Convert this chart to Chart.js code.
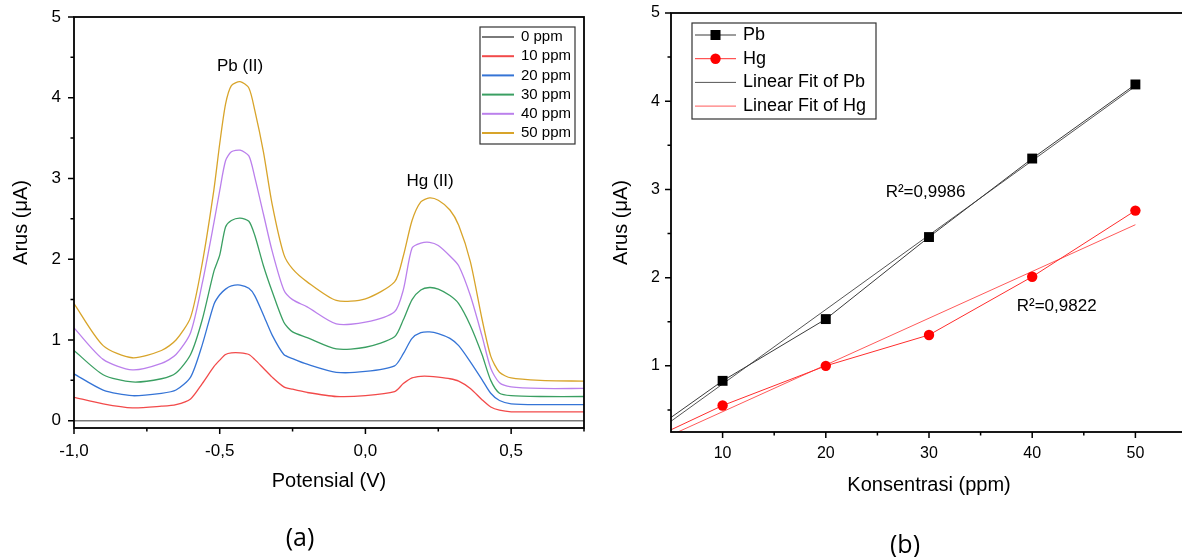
<!DOCTYPE html>
<html lang="id">
<head>
<meta charset="UTF-8" />
<title>Voltammogram Pb(II) dan Hg(II)</title>
<script src="https://cdn.jsdelivr.net/npm/chart.js"></script>
<style>
  body { margin: 0; width: 1182px; height: 557px; overflow: hidden; background: #fff; position: relative; }
  canvas { position: absolute; top: 0; }
  .tag { position: absolute; width: 100px; text-align: center; font-family: "Open Sans", sans-serif; font-size: 25px; line-height: 30px; color: #000; }
</style>
</head>
<body>
<canvas id="chartA" width="600" height="557" style="left:0"></canvas>
<canvas id="chartB" width="600" height="557" style="left:600px"></canvas>
<div class="tag" style="left:250px;top:521px">(a)</div>
<div class="tag" style="left:855px;top:528px">(b)</div>

<script>
// panel (a) - arus vs potensial, one curve per concentration
const potentials = [-1.0, -0.9, -0.8, -0.7, -0.65, -0.6, -0.56, -0.52, -0.5, -0.48, -0.46, -0.43, -0.4, -0.38, -0.35, -0.32, -0.28, -0.25, -0.2, -0.1,
                    0.0, 0.1, 0.13, 0.16, 0.19, 0.22, 0.25, 0.29, 0.32, 0.36, 0.4, 0.43, 0.46, 0.5, 0.6, 0.75];
const arus0   = [0, 0, 0, 0, 0, 0, 0, 0, 0, 0, 0, 0, 0, 0, 0, 0, 0, 0, 0, 0, 0, 0, 0, 0, 0, 0, 0, 0, 0, 0, 0, 0, 0, 0, 0, 0];
const arus10  = [0.29, 0.21, 0.16, 0.18, 0.20, 0.27, 0.46, 0.67, 0.75, 0.82, 0.84, 0.84, 0.82, 0.76, 0.65, 0.54, 0.42, 0.39, 0.35, 0.30,
                 0.31, 0.36, 0.46, 0.53, 0.55, 0.55, 0.54, 0.52, 0.49, 0.40, 0.26, 0.17, 0.13, 0.11, 0.11, 0.11];
const arus20  = [0.58, 0.38, 0.31, 0.34, 0.38, 0.54, 0.94, 1.44, 1.56, 1.63, 1.67, 1.68, 1.64, 1.55, 1.31, 1.06, 0.82, 0.77, 0.70, 0.60,
                 0.61, 0.68, 0.83, 1.02, 1.09, 1.10, 1.08, 1.02, 0.93, 0.73, 0.51, 0.34, 0.25, 0.21, 0.20, 0.20];
const arus30  = [0.87, 0.57, 0.48, 0.52, 0.59, 0.82, 1.25, 1.85, 2.05, 2.40, 2.48, 2.51, 2.47, 2.30, 1.92, 1.60, 1.22, 1.10, 1.03, 0.89,
                 0.91, 1.04, 1.25, 1.50, 1.62, 1.65, 1.63, 1.55, 1.45, 1.18, 0.82, 0.50, 0.34, 0.31, 0.30, 0.30];
const arus40  = [1.15, 0.76, 0.63, 0.71, 0.82, 1.09, 1.70, 2.45, 2.85, 3.22, 3.33, 3.35, 3.28, 3.02, 2.56, 2.10, 1.62, 1.50, 1.41, 1.20,
                 1.22, 1.35, 1.62, 2.14, 2.20, 2.21, 2.17, 2.04, 1.92, 1.55, 1.05, 0.65, 0.47, 0.42, 0.40, 0.40];
const arus50  = [1.45, 0.93, 0.78, 0.87, 1.00, 1.28, 1.95, 2.86, 3.43, 3.92, 4.15, 4.20, 4.12, 3.85, 3.33, 2.68, 2.06, 1.88, 1.72, 1.49,
                 1.51, 1.72, 2.04, 2.48, 2.71, 2.76, 2.73, 2.61, 2.42, 1.97, 1.26, 0.80, 0.60, 0.53, 0.50, 0.49];
const ppmLabels = ['0 ppm', '10 ppm', '20 ppm', '30 ppm', '40 ppm', '50 ppm'];
const ppmColors = ['#7a7a7a', '#f24a4a', '#3574d6', '#3a9f62', '#bb80ec', '#d8a42a'];

// panel (b) - calibration
const konsentrasi = [0, 10, 20, 30, 40, 50];
const arusPb = [0, 0.83, 1.53, 2.46, 3.35, 4.19];
const arusHg = [0, 0.55, 1.00, 1.35, 2.01, 2.76];
const fitKons = [0, 50];
const fitPb = [-0.05, 4.17];
const fitHg = [-0.05, 2.60];

// tick values
const potTicks = [-1, -0.5, 0, 0.5];
const potMinor = [-0.75, -0.25, 0.25, 0.75];
const arusTicksA = [0, 1, 2, 3, 4, 5];
const arusTicksB = [1, 2, 3, 4, 5];
const arusMinor = [0.5, 1.5, 2.5, 3.5, 4.5];
const konsTicks = [10, 20, 30, 40, 50];
const konsMinor = [15, 25, 35, 45, 55];

Chart.defaults.font.family = "'Liberation Sans', Arial, sans-serif";
Chart.defaults.color = '#000';

const points = (xs, ys) => xs.map((x, i) => ({ x: x, y: ys[i] }));

// keep the layout from growing the plot margins for label overhang
const noOverhang = s => { s.paddingTop = 0; s.paddingBottom = 0; s.paddingLeft = 0; s.paddingRight = 0; };

// box around the plot plus outward tick marks
const frameTicks = {
  id: 'frameTicks',
  afterDatasetsDraw(chart, args, o) {
    const { ctx, chartArea: a, scales } = chart;
    ctx.save();
    ctx.strokeStyle = '#000';
    ctx.lineWidth = 1.8;
    ctx.strokeRect(a.left, a.top, a.right - a.left, a.bottom - a.top);
    ctx.lineWidth = 1.5;
    ctx.beginPath();
    const xt = (vals, len) => vals.forEach(v => {
      const p = scales.x.getPixelForValue(v);
      ctx.moveTo(p, a.bottom); ctx.lineTo(p, a.bottom + len);
    });
    const yt = (vals, len) => vals.forEach(v => {
      const p = scales.y.getPixelForValue(v);
      ctx.moveTo(a.left, p); ctx.lineTo(a.left - len, p);
    });
    xt(o.xMajor, 6); xt(o.xMinor, 3.5);
    yt(o.yMajor, 6); yt(o.yMinor, 3.5);
    ctx.stroke();
    ctx.restore();
  }
};

// legend inside a framed box
const boxLegend = {
  id: 'boxLegend',
  afterDraw(chart, args, o) {
    const ctx = chart.ctx;
    ctx.save();
    ctx.fillStyle = '#fff';
    ctx.fillRect(o.left, o.top, o.width, o.height);
    ctx.strokeStyle = '#333';
    ctx.lineWidth = 1.2;
    ctx.strokeRect(o.left, o.top, o.width, o.height);
    ctx.font = o.font;
    ctx.textBaseline = 'middle';
    chart.data.datasets.forEach((ds, i) => {
      const yy = o.firstRow + i * o.rowStep;
      ctx.strokeStyle = ds.borderColor;
      ctx.lineWidth = o.lineWidth;
      ctx.beginPath();
      ctx.moveTo(o.lineFrom, yy); ctx.lineTo(o.lineTo, yy);
      ctx.stroke();
      const mx = (o.lineFrom + o.lineTo) / 2;
      ctx.fillStyle = ds.pointBackgroundColor || ds.borderColor;
      if (ds.pointRadius && ds.pointStyle === 'rect') {
        ctx.fillRect(mx - 5, yy - 5, 10, 10);
      } else if (ds.pointRadius) {
        ctx.beginPath(); ctx.arc(mx, yy, 5.2, 0, Math.PI * 2); ctx.fill();
      }
      ctx.fillStyle = '#000';
      ctx.fillText(ds.label, o.textX, yy);
    });
    ctx.restore();
  }
};

// text notes placed at data coordinates
const notes = {
  id: 'notes',
  afterDraw(chart, args, o) {
    const { ctx, scales } = chart;
    ctx.save();
    ctx.fillStyle = '#000';
    ctx.textBaseline = 'middle';
    o.items.forEach(n => {
      ctx.font = n.font;
      ctx.textAlign = n.align;
      ctx.fillText(n.text, scales.x.getPixelForValue(n.x), scales.y.getPixelForValue(n.y));
    });
    ctx.restore();
  }
};

const koma = v => v.toFixed(1).replace('.', ',');

new Chart(document.getElementById('chartA'), {
  type: 'line',
  data: {
    datasets: [arus0, arus10, arus20, arus30, arus40, arus50].map((ys, i) => ({
      label: ppmLabels[i],
      data: points(potentials, ys),
      borderColor: ppmColors[i],
      borderWidth: 1.3,
      pointRadius: 0,
      tension: 0.25
    }))
  },
  options: {
    responsive: false,
    animation: false,
    events: [],
    layout: { padding: { top: 17, right: 16, left: 0, bottom: 60 } },
    scales: {
      x: {
        type: 'linear', min: -1, max: 0.75,
        grid: { display: false, drawTicks: false },
        border: { display: false },
        afterBuildTicks: s => { s.ticks = potTicks.map(v => ({ value: v })); },
        afterFit: s => { s.height = 69; noOverhang(s); },
        ticks: { padding: 13, font: { size: 17 }, callback: v => koma(v) },
        title: { display: true, text: 'Potensial (V)', font: { size: 20 }, padding: { top: 0, bottom: 4 } }
      },
      y: {
        min: -0.09, max: 5,
        grid: { display: false, drawTicks: false },
        border: { display: false },
        afterBuildTicks: s => { s.ticks = arusTicksA.map(v => ({ value: v })); },
        afterFit: s => { s.width = 74; noOverhang(s); },
        ticks: { padding: 13, font: { size: 17 }, callback: v => String(v) },
        title: { display: true, text: 'Arus (\u03BCA)', font: { size: 20 }, padding: { top: 9, bottom: 0 } }
      }
    },
    plugins: {
      legend: { display: false },
      tooltip: { enabled: false },
      frameTicks: { xMajor: potTicks, xMinor: potMinor, yMajor: arusTicksA, yMinor: arusMinor },
      boxLegend: {
        left: 480, top: 27, width: 95, height: 117,
        firstRow: 37, rowStep: 19.2, lineFrom: 482, lineTo: 514, textX: 521,
        lineWidth: 2, font: "15px 'Liberation Sans', Arial, sans-serif"
      },
      notes: {
        items: [
          { text: 'Pb (II)', x: -0.43, y: 4.39, align: 'center', font: "17px 'Liberation Sans', Arial, sans-serif" },
          { text: 'Hg (II)', x: 0.222, y: 2.97, align: 'center', font: "17px 'Liberation Sans', Arial, sans-serif" }
        ]
      }
    }
  },
  plugins: [frameTicks, boxLegend, notes]
});

new Chart(document.getElementById('chartB'), {
  type: 'line',
  data: {
    datasets: [
      { label: 'Pb', data: points(konsentrasi, arusPb), borderColor: '#3a3a3a', borderWidth: 1,
        pointStyle: 'rect', pointRadius: 7, pointBackgroundColor: '#000', pointBorderColor: '#000', pointBorderWidth: 0, tension: 0 },
      { label: 'Hg', data: points(konsentrasi, arusHg), borderColor: '#ff2d2d', borderWidth: 1,
        pointStyle: 'circle', pointRadius: 5.2, pointBackgroundColor: '#ff0000', pointBorderColor: '#ff0000', pointBorderWidth: 0, tension: 0 },
      { label: 'Linear Fit of Pb', data: points(fitKons, fitPb), borderColor: '#555', borderWidth: 1, pointRadius: 0 },
      { label: 'Linear Fit of Hg', data: points(fitKons, fitHg), borderColor: '#ff5a5a', borderWidth: 1, pointRadius: 0 }
    ]
  },
  options: {
    responsive: false,
    animation: false,
    events: [],
    layout: { padding: { top: 13, right: 13, left: 0, bottom: 56 } },
    scales: {
      x: {
        type: 'linear', min: 5, max: 55,
        grid: { display: false, drawTicks: false },
        border: { display: false },
        afterBuildTicks: s => { s.ticks = konsTicks.map(v => ({ value: v })); },
        afterFit: s => { s.height = 69; noOverhang(s); },
        ticks: { padding: 12, font: { size: 16 }, callback: v => String(v) },
        title: { display: true, text: 'Konsentrasi (ppm)', font: { size: 20 }, padding: { top: 0, bottom: 4 } }
      },
      y: {
        min: 0.25, max: 5,
        grid: { display: false, drawTicks: false },
        border: { display: false },
        afterBuildTicks: s => { s.ticks = arusTicksB.map(v => ({ value: v })); },
        afterFit: s => { s.width = 71; noOverhang(s); },
        ticks: { padding: 11, font: { size: 16 }, callback: v => String(v) },
        title: { display: true, text: 'Arus (\u03BCA)', font: { size: 20 }, padding: { top: 9, bottom: 0 } }
      }
    },
    plugins: {
      legend: { display: false },
      tooltip: { enabled: false },
      frameTicks: { xMajor: konsTicks, xMinor: konsMinor, yMajor: arusTicksB, yMinor: arusMinor },
      boxLegend: {
        left: 92, top: 23, width: 184, height: 96,
        firstRow: 35, rowStep: 23.7, lineFrom: 95, lineTo: 136, textX: 143,
        lineWidth: 1, font: "18px 'Liberation Sans', Arial, sans-serif"
      },
      notes: {
        items: [
          { text: 'R\u00B2=0,9986', x: 25.8, y: 2.97, align: 'left', font: "17px 'Liberation Sans', Arial, sans-serif" },
          { text: 'R\u00B2=0,9822', x: 38.5, y: 1.67, align: 'left', font: "17px 'Liberation Sans', Arial, sans-serif" }
        ]
      }
    }
  },
  plugins: [frameTicks, boxLegend, notes]
});
</script>
</body>
</html>
